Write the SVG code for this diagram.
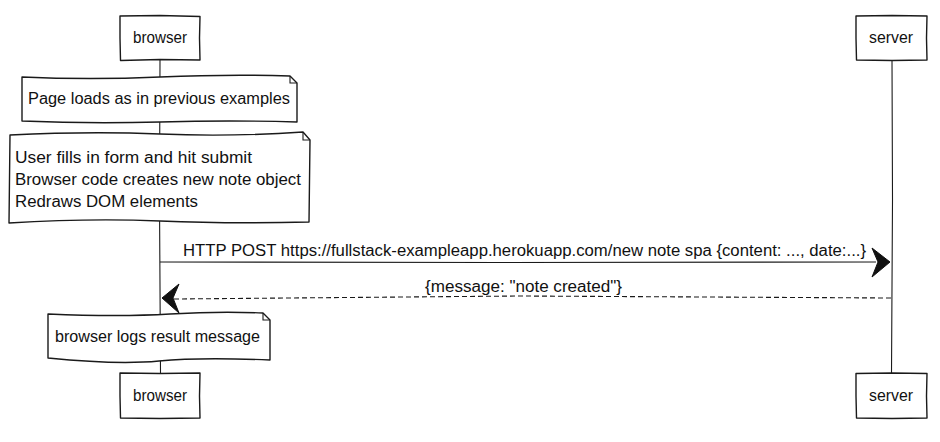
<svg xmlns="http://www.w3.org/2000/svg" width="940" height="442" viewBox="0 0 940 442">
<style>
.sk{fill:#fff;stroke:#1a1a1a;stroke-width:1.4;stroke-linejoin:round;stroke-linecap:round}
.ln{fill:none;stroke:#1a1a1a;stroke-width:1.1}
.t{font-family:"Liberation Sans",Arial,sans-serif;font-size:16px;fill:#111}
.c{text-anchor:middle}
.ah{fill:#111;stroke:#111;stroke-width:1}
</style>
<rect width="940" height="442" fill="#fff"/>
<g id="lifelines">
<path class="ln" d="M160,60 L159.5,200 L160.5,373"/>
<path class="ln" d="M892,60 L892.5,200 L891.5,373"/>
</g>
<g id="actor-browser-top">
<path class="sk" d="M120,16 L160,15.5 L200,16.5 L199.5,38 L200,60 L160,59.5 L120.5,60.5 L120,38 Z"/>
<text class="t c" x="160" y="43" textLength="54" lengthAdjust="spacingAndGlyphs">browser</text>
</g>
<g id="actor-server-top">
<path class="sk" d="M856,16 L892,15.5 L927,16 L926.5,38 L927,60 L892,60.5 L856.5,60 L856,38 Z"/>
<text class="t c" x="891" y="43" textLength="44" lengthAdjust="spacingAndGlyphs">server</text>
</g>
<g id="note-page-loads">
<path class="sk" d="M22,77 Q90,80 160,77 T290,76 L297,83 L297,122 Q230,120 160,122 T22,121 Z"/>
<path class="ln" d="M290,76 L290,83 L297,83"/>
<text class="t c" x="159" y="104" textLength="262" lengthAdjust="spacingAndGlyphs">Page loads as in previous examples</text>
</g>
<g id="note-user-fills">
<path class="sk" d="M10,135 Q90,131 160,134 T303,132 L310,140 L309,222 Q230,224 160,221 T9,223 Z"/>
<path class="ln" d="M303,132 L303,140 L310,140"/>
<text class="t" x="15" y="163" textLength="237" lengthAdjust="spacingAndGlyphs">User fills in form and hit submit</text>
<text class="t" x="15" y="185" textLength="286" lengthAdjust="spacingAndGlyphs">Browser code creates new note object</text>
<text class="t" x="15" y="207" textLength="183" lengthAdjust="spacingAndGlyphs">Redraws DOM elements</text>
</g>
<g id="connectors">
<path class="ln" d="M160,262 L500,262.5 L876,262"/>
<path class="ah" d="M890,262 L872,248 L878,262 L872,277 Z"/>
<text class="t c" x="524.5" y="256" textLength="683" lengthAdjust="spacingAndGlyphs">HTTP POST https://fullstack-exampleapp.herokuapp.com/new note spa {content: ..., date:...}</text>
<path class="ln" d="M891,298 L520,296 L174,299" stroke-dasharray="5,3"/>
<path class="ah" d="M162,298 L179,284 L173,298 L179,313 Z"/>
<text class="t c" x="523.5" y="292" textLength="197" lengthAdjust="spacingAndGlyphs">{message: "note created"}</text>
</g>
<g id="note-browser-logs">
<path class="sk" d="M48,314 Q120,317 170,314 T263,313 L270,320 L270,360 Q200,357 159,361 T48,358 Z"/>
<path class="ln" d="M263,313 L263,320 L270,320"/>
<text class="t c" x="157.5" y="342" textLength="205" lengthAdjust="spacingAndGlyphs">browser logs result message</text>
</g>
<g id="actor-browser-bottom">
<path class="sk" d="M120,373 L160,373.5 L200,373 L199.5,396 L200,418 L160,418.5 L120.5,418 L120,396 Z"/>
<text class="t c" x="160" y="401" textLength="54" lengthAdjust="spacingAndGlyphs">browser</text>
</g>
<g id="actor-server-bottom">
<path class="sk" d="M856,373.5 L892,373 L927,373.5 L926.5,396 L927,418 L892,418.5 L856.5,418 L856,396 Z"/>
<text class="t c" x="891" y="401" textLength="44" lengthAdjust="spacingAndGlyphs">server</text>
</g>
</svg>
